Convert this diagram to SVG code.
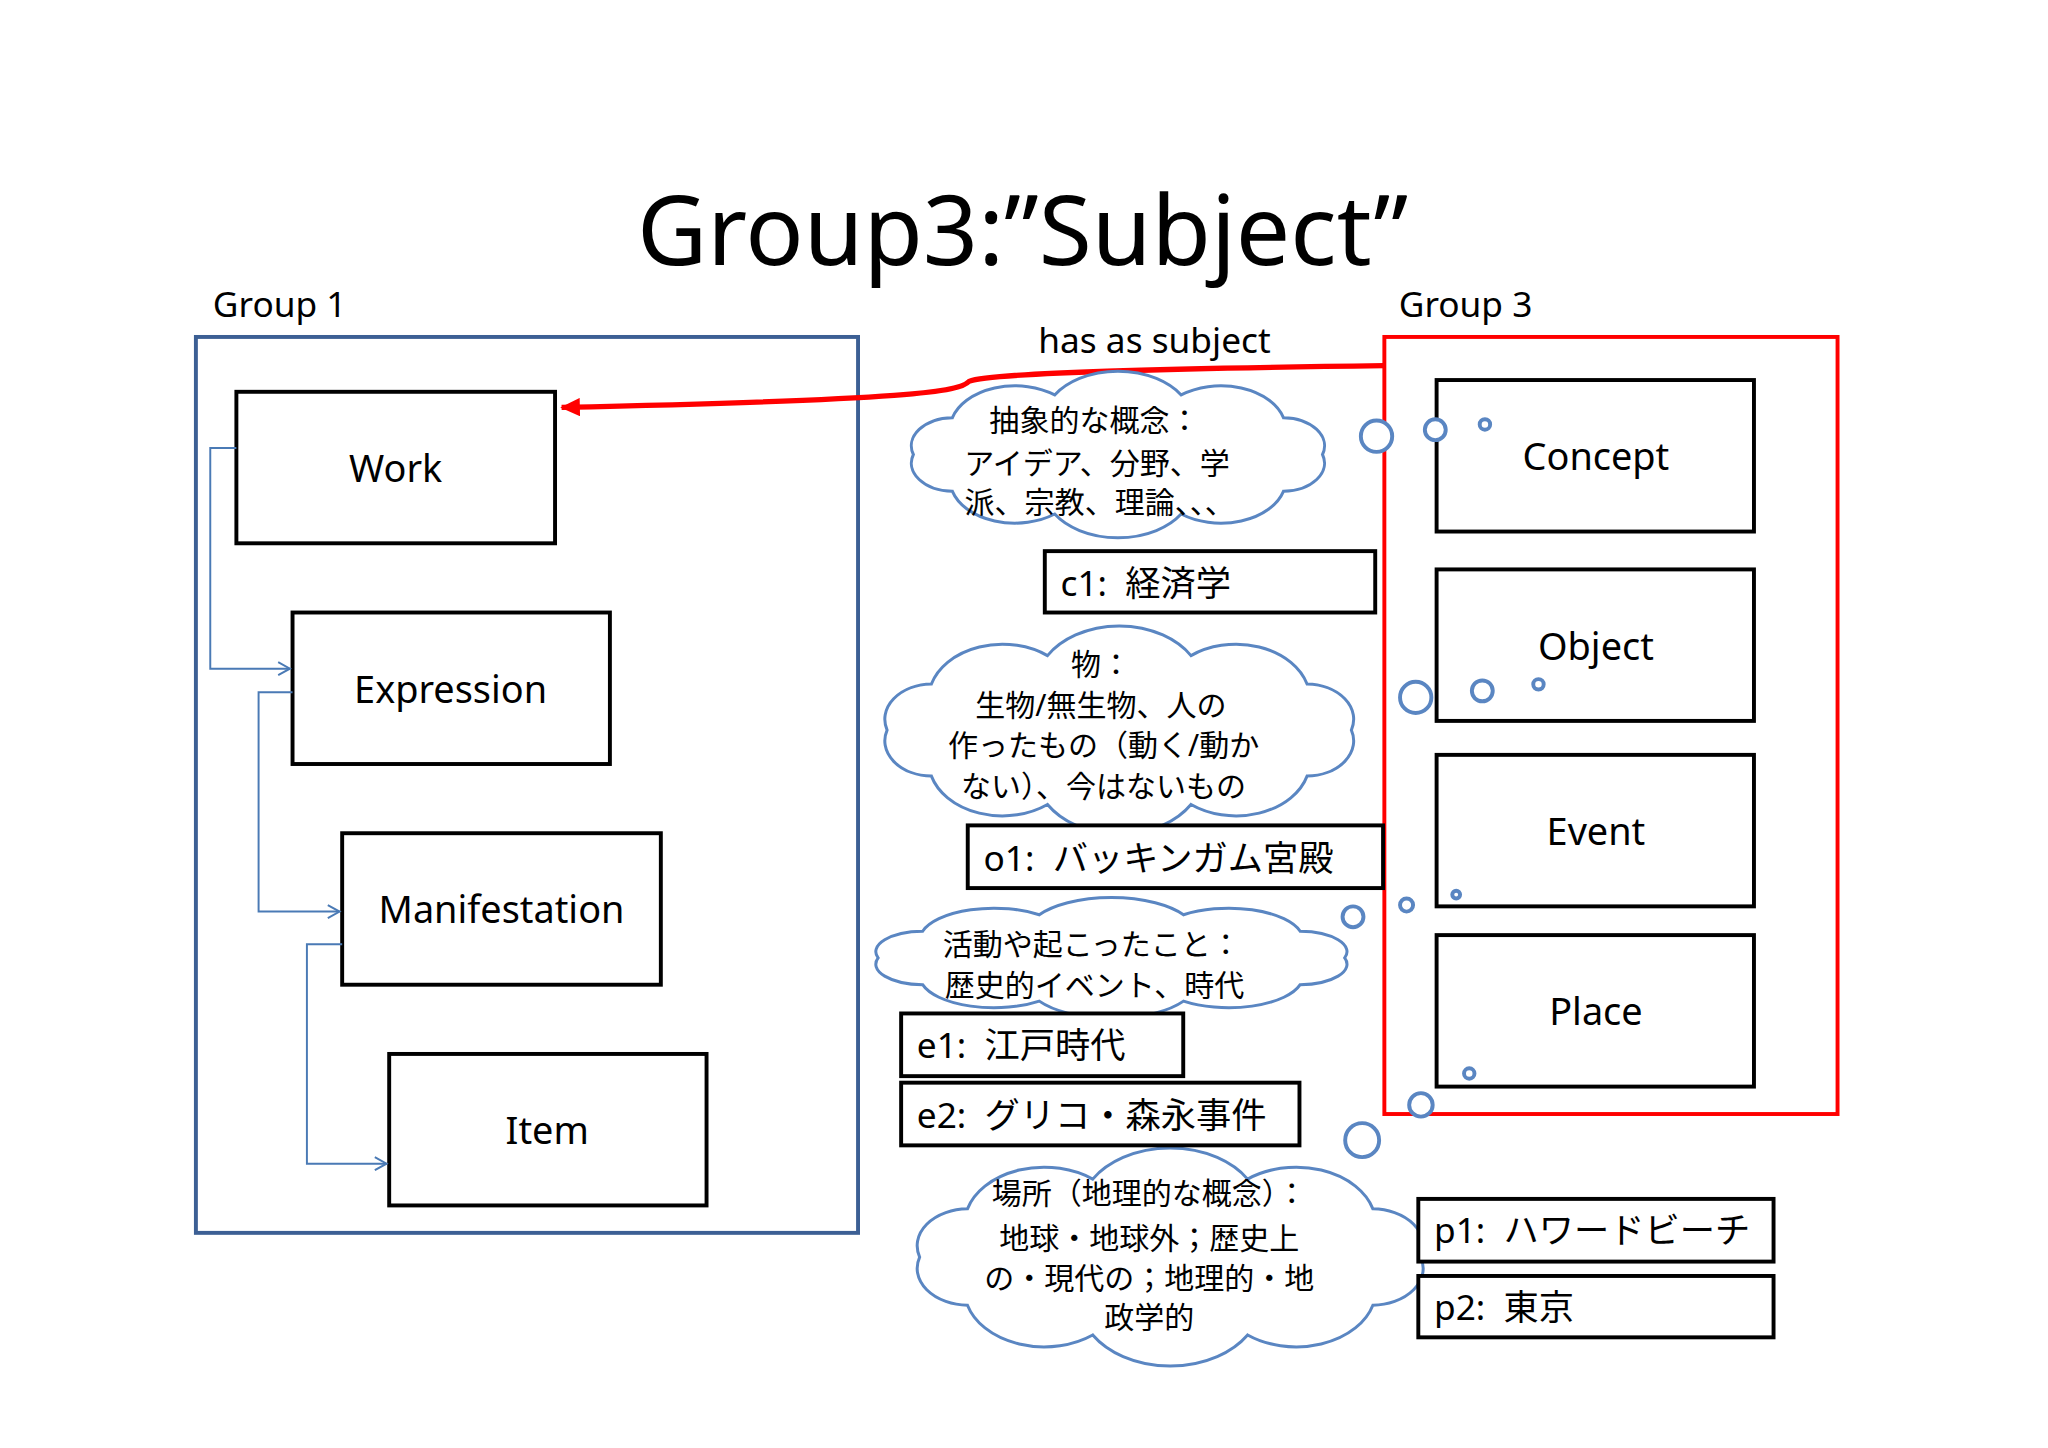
<svg xmlns="http://www.w3.org/2000/svg" xmlns:xlink="http://www.w3.org/1999/xlink" width="2048" height="1448" viewBox="0 0 2048 1448">
<style>
text{font-family:"Noto Sans","Noto Sans CJK JP",sans-serif;fill:#000}
.box{fill:#fff;stroke:#000;stroke-width:3}
.lbl{font-size:29px;text-anchor:middle}
.inst{font-size:27px;white-space:pre}
.cl{font-size:23px;text-anchor:middle}
.bub{fill:#fff;stroke:#5a86c2;stroke-width:3}
.conn{fill:none;stroke:#4a7ab5;stroke-width:1.5}
</style>
<defs>
<path id="cloud" d="M188,50 A18,18 0 0 1 171.2,73.5 A28,28 0 0 1 127.2,88 A32,32 0 0 1 72.8,88 A28,28 0 0 1 28.8,73.5 A18,18 0 0 1 12,50 A18,18 0 0 1 28.8,26.5 A28,28 0 0 1 72.8,12 A32,32 0 0 1 127.2,12 A28,28 0 0 1 171.2,26.5 A18,18 0 0 1 188,50 Z" fill="#fff" stroke="#5a86c2" stroke-width="3" vector-effect="non-scaling-stroke"/>
<marker id="oa" markerWidth="12" markerHeight="12" refX="10" refY="6" orient="auto" markerUnits="userSpaceOnUse"><path d="M1,1 L10,6 L1,11" fill="none" stroke="#4a7ab5" stroke-width="1.5"/></marker>
<marker id="ra" markerWidth="16" markerHeight="14" refX="14" refY="7" orient="auto" markerUnits="userSpaceOnUse"><path d="M0,0 L15,7 L0,14 Z" fill="#f00"/></marker>
</defs>
<rect width="2048" height="1448" fill="#fff"/>
<g transform="scale(1.306)">
<text x="783" y="203" font-size="74" text-anchor="middle">Group3:”Subject”</text>
<text x="163" y="243" font-size="27">Group 1</text>
<text x="1071" y="243" font-size="27">Group 3</text>
<text x="795" y="270" font-size="27">has as subject</text>

<g id="group1"><rect x="150" y="258" width="507" height="686" fill="none" stroke="#3c5f94" stroke-width="3"/></g>
<g id="group3"><rect x="1060" y="258" width="347" height="595" fill="none" stroke="#f00" stroke-width="3"/></g>

<g id="work"><rect class="box" x="181" y="300" width="244" height="116"/><text class="lbl" x="303" y="369">Work</text></g>
<g id="expression"><rect class="box" x="224" y="469" width="243" height="116"/><text class="lbl" x="345" y="538">Expression</text></g>
<g id="manifestation"><rect class="box" x="262" y="638" width="244" height="116"/><text class="lbl" x="384" y="707">Manifestation</text></g>
<g id="item"><rect class="box" x="298" y="807" width="243" height="116"/><text class="lbl" x="419" y="876">Item</text></g>

<g id="concept"><rect class="box" x="1100" y="291" width="243" height="116"/><text class="lbl" x="1222" y="360">Concept</text></g>
<g id="object"><rect class="box" x="1100" y="436" width="243" height="116"/><text class="lbl" x="1222" y="505">Object</text></g>
<g id="event"><rect class="box" x="1100" y="578" width="243" height="116"/><text class="lbl" x="1222" y="647">Event</text></g>
<g id="place"><rect class="box" x="1100" y="716" width="243" height="116"/><text class="lbl" x="1222" y="785">Place</text></g>

<g id="connectors">
<path class="conn" d="M181,343 H161 V512 H222" marker-end="url(#oa)"/>
<path class="conn" d="M224,530 H198 V698 H260" marker-end="url(#oa)"/>
<path class="conn" d="M262,723 H235 V891 H296" marker-end="url(#oa)"/>
<path d="M1060,280 C900,282 760,285 742,292 C735,300 700,306 430,312" fill="none" stroke="#f00" stroke-width="4" marker-end="url(#ra)"/>
</g>

<g id="cloud1"><use xlink:href="#cloud" transform="translate(678,288) scale(1.78,1.2)"/>
<text class="cl" x="838" y="330">抽象的な概念：</text><text class="cl" x="840" y="363">アイデア、分野、学</text><text class="cl" x="842" y="393">派、宗教、理論、、、</text>
<circle class="bub" cx="1054" cy="334" r="12"/><circle class="bub" cx="1099" cy="329" r="8"/><circle class="bub" cx="1137" cy="325" r="4"/></g>

<g id="cloud2"><use xlink:href="#cloud" transform="translate(655,484) scale(2.02,1.5)"/>
<text class="cl" x="843" y="517">物：</text><text class="cl" x="843" y="548">生物/無生物、人の</text><text class="cl" x="845" y="579">作ったもの（動く/動か</text><text class="cl" x="845" y="610">ない）、今はないもの</text>
<circle class="bub" cx="1084" cy="534" r="12"/><circle class="bub" cx="1135" cy="529" r="8"/><circle class="bub" cx="1178" cy="524" r="4"/></g>

<g id="cloud3"><use xlink:href="#cloud" transform="translate(648,690) scale(2.03,0.87)"/>
<text class="cl" x="836" y="731">活動や起こったこと：</text><text class="cl" x="838" y="763">歴史的イベント、時代</text>
<circle class="bub" cx="1036" cy="702" r="8"/><circle class="bub" cx="1077" cy="693" r="5"/><circle class="bub" cx="1115" cy="685" r="3"/></g>

<g id="cloud4"><use xlink:href="#cloud" transform="translate(678,884) scale(2.18,1.57)"/>
<text class="cl" x="880" y="922">場所（地理的な概念）：</text><text class="cl" x="880" y="956">地球・地球外；歴史上</text><text class="cl" x="880" y="987">の・現代の；地理的・地</text><text class="cl" x="880" y="1017">政学的</text>
<circle class="bub" cx="1043" cy="873" r="13"/><circle class="bub" cx="1088" cy="846" r="9"/><circle class="bub" cx="1125" cy="822" r="4"/></g>

<g id="c1"><rect class="box" x="800" y="422" width="253" height="47"/><text class="inst" x="812" y="456">c1:  経済学</text></g>
<g id="o1"><rect class="box" x="741" y="632" width="318" height="48"/><text class="inst" x="753" y="667">o1:  バッキンガム宮殿</text></g>
<g id="e1"><rect class="box" x="690" y="776" width="216" height="48"/><text class="inst" x="702" y="810">e1:  江戸時代</text></g>
<g id="e2"><rect class="box" x="690" y="829" width="305" height="48"/><text class="inst" x="702" y="864">e2:  グリコ・森永事件</text></g>
<g id="p1"><rect class="box" x="1086" y="918" width="272" height="48"/><text class="inst" x="1098" y="952">p1:  ハワードビーチ</text></g>
<g id="p2"><rect class="box" x="1086" y="977" width="272" height="47"/><text class="inst" x="1098" y="1011">p2:  東京</text></g>
</g>
</svg>
